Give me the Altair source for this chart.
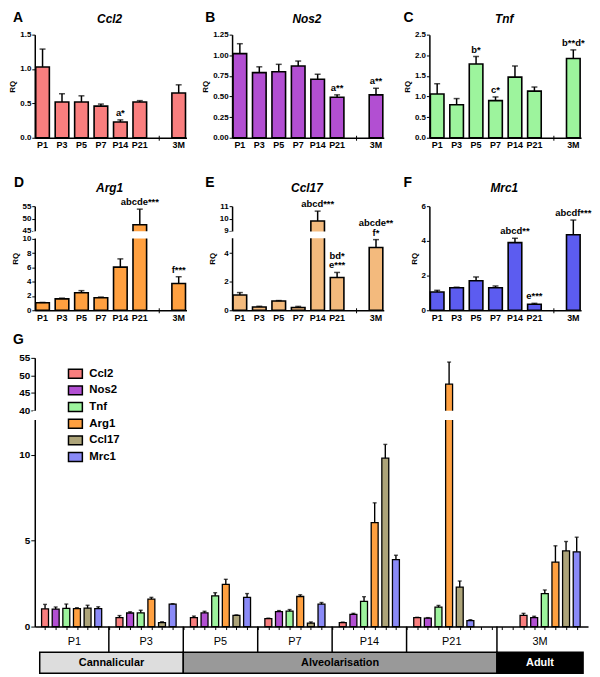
import altair as alt
import pandas as pd

FONT = "Liberation Sans"

categories = ["P1", "P3", "P5", "P7", "P14", "P21", "3M"]
genes = ["Ccl2", "Nos2", "Tnf", "Arg1", "Ccl17", "Mrc1"]

ccl2_mean = [1.03, 0.52, 0.52, 0.46, 0.23, 0.52, 0.65]
ccl2_sem = [0.26, 0.12, 0.09, 0.03, 0.03, 0.02, 0.12]
nos2_mean = [1.02, 0.79, 0.80, 0.87, 0.71, 0.49, 0.52]
nos2_sem = [0.12, 0.07, 0.09, 0.06, 0.06, 0.03, 0.08]
tnf_mean = [1.06, 0.80, 1.79, 0.90, 1.47, 1.13, 1.92]
tnf_sem = [0.25, 0.15, 0.18, 0.09, 0.27, 0.10, 0.21]
arg1_mean = [1.05, 1.60, 2.45, 1.75, 6.05, 47.5, 3.75]
arg1_sem = [0.05, 0.10, 0.30, 0.10, 1.15, 6.3, 0.95]
ccl17_mean = [1.07, 0.23, 0.65, 0.20, 9.8, 2.30, 4.40]
ccl17_sem = [0.17, 0.05, 0.03, 0.07, 0.8, 0.35, 0.55]
mrc1_mean = [1.05, 1.30, 1.70, 1.30, 3.90, 0.35, 4.35]
mrc1_sem = [0.10, 0.03, 0.22, 0.10, 0.25, 0.05, 0.85]

# significance labels: line next to the error bar, and the line above it
ccl2_sig = ["", "", "", "", "a*", "", ""]
nos2_sig = ["", "", "", "", "", "a**", "a**"]
tnf_sig = ["", "", "b*", "c*", "", "", "b**d*"]
arg1_sig = ["", "", "", "", "", "abcde***", "f***"]
ccl17_sig = ["", "", "", "", "abcd***", "e***", "f*"]
ccl17_sig_top = ["", "", "", "", "", "bd*", "abcde**"]
mrc1_sig = ["", "", "", "", "abcd**", "e***", "abcdf***"]
no_top = ["", "", "", "", "", "", ""]

panel_colors = ["#F97E7E", "#B24FD2", "#9DF49D", "#FFA040", "#F3BA7D", "#5C5CF0"]
g_colors = ["#F97E7E", "#B24FD2", "#9DF49D", "#FFA040", "#ADA479", "#8A8AF7"]

phases = ["Cannalicular", "Alveolarisation", "Adult"]
phase_first = [0, 2, 6]
phase_last = [1, 5, 6]
phase_fill = ["#DDDDDD", "#999999", "#000000"]
phase_text = ["black", "black", "white"]

W = 153
H1 = 104
T2 = 46          # empty band above the value range of row-2 panels
H2 = T2 + 105
WG = 558
HG = 271
G_TOP = 322      # offset of panel G's plot top from panel A's plot top (for the legend)

x_slots = categories[:6] + [" "] + ["3M"]
one = pd.DataFrame({"k": [0]})


def row_panel(letter, letter_dx, letter_y, gene, title_y, mean, sem, sig, sig_top, color,
              ydomain, yrange, yvals, fmt, H, gap=None):
    upper = [m + s for m, s in zip(mean, sem)]
    df = pd.DataFrame({"cat": categories, "mean": mean, "upper": upper,
                       "sig": sig, "sig_top": sig_top})
    xscale = alt.Scale(domain=x_slots, paddingInner=0.3, paddingOuter=0.05)
    xaxis = alt.Axis(title=None, labelAngle=0, ticks=False, labelFont=FONT,
                     labelFontSize=9, labelFontWeight="bold", labelColor="black",
                     labelPadding=3, domainColor="black", domainWidth=1.5)
    yscale = alt.Scale(domain=ydomain, range=yrange, nice=False, zero=False)
    yaxis = alt.Axis(title="RQ", values=yvals, format=fmt, labelFont=FONT,
                     labelFontSize=8, labelFontWeight="bold", labelColor="black",
                     labelPadding=1, tickSize=3, tickColor="black", tickWidth=1,
                     domainColor="black", domainWidth=1.5, titleFont=FONT,
                     titleFontSize=8, titleFontWeight="bold", titleColor="black",
                     titlePadding=3, grid=False)
    x = alt.X("cat:N", scale=xscale, axis=xaxis)
    ym = alt.Y("mean:Q", scale=yscale, axis=yaxis)
    yu = alt.Y("upper:Q", scale=yscale, axis=yaxis)
    base = alt.Chart(df)
    bars = base.mark_bar(color=color, stroke="black", strokeWidth=1.6).encode(x=x, y=ym)
    err = base.mark_rule(color="black", strokeWidth=1.5).encode(x=x, y=ym, y2="upper:Q")
    cap = base.mark_tick(color="black", thickness=1.5, size=6, orient="horizontal").encode(x=x, y=yu)
    layers = [bars, err, cap]
    if gap is not None:
        gdf = pd.DataFrame({"lo": [gap[0]], "hi": [gap[1]]})
        layers.append(
            alt.Chart(gdf).mark_rect(color="white").encode(
                x=alt.value(-2), x2=alt.value(W),
                y=alt.Y("lo:Q", scale=yscale, axis=yaxis), y2="hi:Q"))
    text = base.mark_text(font=FONT, fontSize=9.5, fontWeight="bold", baseline="bottom",
                          dy=-2, color="black").encode(x=x, y=yu, text="sig:N")
    text2 = base.mark_text(font=FONT, fontSize=9.5, fontWeight="bold", baseline="bottom",
                           dy=-12, color="black").encode(x=x, y=yu, text="sig_top:N")
    gaptick = alt.Chart(pd.DataFrame({"cat": [" "]})).mark_rule(color="black", strokeWidth=1).encode(
        x=x, y=alt.value(H - 2), y2=alt.value(H + 3))
    let = alt.Chart(one).mark_text(text=letter, font=FONT, fontSize=14, fontWeight="bold",
                                   align="left", baseline="alphabetic", color="black").encode(
        x=alt.value(letter_dx), y=alt.value(letter_y))
    ttl = alt.Chart(one).mark_text(text=gene, font=FONT, fontSize=12, fontWeight="bold",
                                   fontStyle="italic", align="center", baseline="alphabetic",
                                   color="black").encode(
        x=alt.value(W / 2 - 1), y=alt.value(title_y))
    layers += [text, text2, gaptick, let, ttl]
    return alt.layer(*layers).properties(width=W, height=H)


A = row_panel("A", -22, -12.5, "Ccl2", -12, ccl2_mean, ccl2_sem, ccl2_sig, no_top, panel_colors[0],
              [0, 1.5], [H1, 0], [0, 0.5, 1.0, 1.5], ".1f", H1)
B = row_panel("B", -27, -12.5, "Nos2", -12, nos2_mean, nos2_sem, nos2_sig, no_top, panel_colors[1],
              [0, 1.25], [H1, 0], [0, 0.25, 0.5, 0.75, 1.0, 1.25], ".2f", H1)
C = row_panel("C", -26, -12.5, "Tnf", -12, tnf_mean, tnf_sem, tnf_sig, no_top, panel_colors[2],
              [0, 2.5], [H1, 0], [0, 0.5, 1.0, 1.5, 2.0, 2.5], ".1f", H1)
D = row_panel("D", -21, T2 - 19, "Arg1", T2 - 14, arg1_mean, arg1_sem, arg1_sig, no_top, panel_colors[3],
              [0, 10, 45, 55], [H2, T2 + 33, T2 + 25, T2], [0, 2, 4, 6, 8, 10, 45, 50, 55], "d", H2,
              gap=(11.5, 43.5))
E = row_panel("E", -27, T2 - 19, "Ccl17", T2 - 14, ccl17_mean, ccl17_sem, ccl17_sig, ccl17_sig_top,
              panel_colors[4], [0, 5, 9, 11], [H2, T2 + 33, T2 + 25, T2], [0, 2, 4, 9, 10, 11], "d", H2,
              gap=(5.3, 8.7))
F = row_panel("F", -26, T2 - 19, "Mrc1", T2 - 14, mrc1_mean, mrc1_sem, mrc1_sig, no_top, panel_colors[5],
              [0, 6], [H2, T2], [0, 2, 4, 6], "d", H2)

# ---- Panel G ----
starts = [i * 7 + (3 if i == 6 else 0) for i in range(7)]
ends = [s + 5 for s in starts]
left_edge, right_edge = -0.5, 50.6
bounds = [left_edge] + [(ends[i] + starts[i + 1]) / 2 for i in range(6)] + [right_edge]

means = [ccl2_mean, nos2_mean, tnf_mean, arg1_mean, ccl17_mean, mrc1_mean]
sems = [ccl2_sem, nos2_sem, tnf_sem, arg1_sem, ccl17_sem, mrc1_sem]
rows = []
for gi, cat in enumerate(categories):
    for k, gene in enumerate(genes):
        rows.append({"slot": starts[gi] + k, "gene": gene, "mean": means[k][gi],
                     "upper": means[k][gi] + sems[k][gi]})
dg = pd.DataFrame(rows)

gx_scale = alt.Scale(domain=[left_edge, right_edge], nice=False, zero=False)
gx_axis = alt.Axis(title=None, values=list(range(51)), labels=False, ticks=True, tickSize=3,
                   tickColor="black", tickWidth=1, domainColor="black", domainWidth=1.5, grid=False)
gy_scale = alt.Scale(domain=[0, 12, 40, 55], range=[HG, 63, 53, 0], nice=False, zero=False)
gy_axis = alt.Axis(title=None, values=[0, 5, 10, 40, 45, 50, 55], format="d", labelFont=FONT,
                   labelFontSize=10, labelFontWeight="bold", labelColor="black", labelPadding=1,
                   tickSize=4, tickColor="black", tickWidth=1, domainColor="black",
                   domainWidth=1.5, grid=False)
gx = alt.X("slot:Q", scale=gx_scale, axis=gx_axis)
gym = alt.Y("mean:Q", scale=gy_scale, axis=gy_axis)
gyu = alt.Y("upper:Q", scale=gy_scale, axis=gy_axis)
gbase = alt.Chart(dg)
gbars = gbase.mark_bar(orient="vertical", size=7, stroke="black", strokeWidth=1.3).encode(
    x=gx, y=gym,
    color=alt.Color("gene:N", scale=alt.Scale(domain=genes, range=g_colors),
                    legend=alt.Legend(orient="none", legendX=33, legendY=G_TOP + 12, title=None,
                                      symbolType="M-1,-0.64L1,-0.64L1,0.64L-1,0.64Z",
                                      symbolSize=196, symbolStrokeColor="black",
                                      symbolStrokeWidth=1.5, symbolOpacity=1,
                                      labelFont=FONT, labelFontSize=11.5,
                                      labelFontWeight="bold", labelColor="black",
                                      labelOffset=6, rowPadding=0.8, padding=0)))
gerr = gbase.mark_rule(color="black", strokeWidth=1.4).encode(x=gx, y=gym, y2="upper:Q")
gcap = gbase.mark_tick(color="black", thickness=1.4, size=4, orient="horizontal").encode(x=gx, y=gyu)
ggap = alt.Chart(pd.DataFrame({"lo": [12.8], "hi": [39.2]})).mark_rect(color="white").encode(
    x=alt.value(-2), x2=alt.value(WG), y=alt.Y("lo:Q", scale=gy_scale, axis=gy_axis), y2="hi:Q")

sep_df = pd.DataFrame({"pos": bounds[1:-1]})
gsep = alt.Chart(sep_df).mark_rule(color="black", strokeWidth=1.5).encode(
    x=alt.X("pos:Q", scale=gx_scale, axis=gx_axis), y=alt.value(HG), y2=alt.value(HG + 26))
lab_df = pd.DataFrame({"name": categories,
                       "c": [(bounds[i] + bounds[i + 1]) / 2 for i in range(7)]})
glab = alt.Chart(lab_df).mark_text(font=FONT, fontSize=11, color="black", baseline="middle").encode(
    x=alt.X("c:Q", scale=gx_scale, axis=gx_axis), y=alt.value(HG + 16), text="name:N")
ph_df = pd.DataFrame({
    "name": phases,
    "x0": [bounds[i] for i in phase_first],
    "x1": [bounds[i + 1] for i in phase_last],
    "fillc": phase_fill,
    "tc": phase_text,
})
ph_df["xc"] = (ph_df["x0"] + ph_df["x1"]) / 2
gph = alt.Chart(ph_df).mark_rect(stroke="black", strokeWidth=1.5).encode(
    x=alt.X("x0:Q", scale=gx_scale, axis=gx_axis), x2="x1:Q",
    y=alt.value(HG + 26), y2=alt.value(HG + 47), fill=alt.Fill("fillc:N", scale=None))
gpht = alt.Chart(ph_df).mark_text(font=FONT, fontSize=11, fontWeight="bold", baseline="middle").encode(
    x=alt.X("xc:Q", scale=gx_scale, axis=gx_axis), y=alt.value(HG + 37), text="name:N",
    fill=alt.Fill("tc:N", scale=None))
glet = alt.Chart(one).mark_text(text="G", font=FONT, fontSize=14, fontWeight="bold",
                                align="left", baseline="alphabetic", color="black").encode(
    x=alt.value(-22), y=alt.value(-13.5))

G = alt.layer(gbars, gerr, gcap, ggap, gsep, glab, gph, gpht, glet).properties(width=WG, height=HG)

row1 = alt.hconcat(A, B, C, spacing=46, bounds="flush")
row2 = alt.hconcat(D, E, F, spacing=46, bounds="flush")
chart = alt.vconcat(row1, row2, G, spacing=11).properties(
    padding=0
).configure_view(stroke=None).configure_axis(grid=False)

chart.save("out.html", embed_options={"renderer": "svg", "actions": False})
